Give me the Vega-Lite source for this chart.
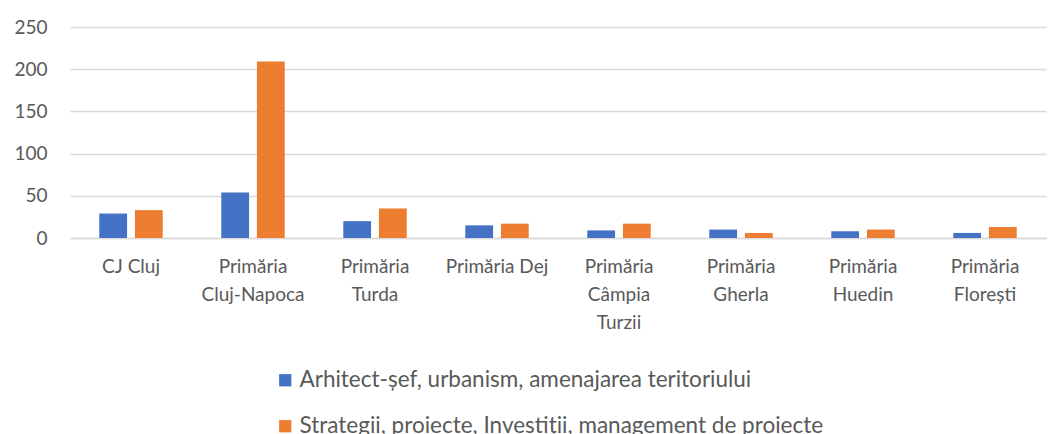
{
  "$schema": "https://vega.github.io/schema/vega-lite/v6.json",
  "autosize": "none",
  "width": 976,
  "height": 211,
  "padding": {"left": 70, "top": 27, "right": 3, "bottom": 196},
  "background": "white",
  "config": {
    "font": "Lato",
    "view": {"stroke": null},
    "axis": {"labelFont": "Lato", "labelColor": "#595959", "labelFontSize": 19}
  },
  "data": {
    "values": [
      {"inst": "CJ Cluj", "cat": "Arhitect-șef, urbanism, amenajarea teritoriului", "val": 29},
      {"inst": "CJ Cluj", "cat": "Strategii, proiecte, Investiții, management de proiecte", "val": 33},
      {"inst": "Primăria Cluj-Napoca", "cat": "Arhitect-șef, urbanism, amenajarea teritoriului", "val": 54},
      {"inst": "Primăria Cluj-Napoca", "cat": "Strategii, proiecte, Investiții, management de proiecte", "val": 209},
      {"inst": "Primăria Turda", "cat": "Arhitect-șef, urbanism, amenajarea teritoriului", "val": 20},
      {"inst": "Primăria Turda", "cat": "Strategii, proiecte, Investiții, management de proiecte", "val": 35},
      {"inst": "Primăria Dej", "cat": "Arhitect-șef, urbanism, amenajarea teritoriului", "val": 15},
      {"inst": "Primăria Dej", "cat": "Strategii, proiecte, Investiții, management de proiecte", "val": 17},
      {"inst": "Primăria Câmpia Turzii", "cat": "Arhitect-șef, urbanism, amenajarea teritoriului", "val": 9},
      {"inst": "Primăria Câmpia Turzii", "cat": "Strategii, proiecte, Investiții, management de proiecte", "val": 17},
      {"inst": "Primăria Gherla", "cat": "Arhitect-șef, urbanism, amenajarea teritoriului", "val": 10},
      {"inst": "Primăria Gherla", "cat": "Strategii, proiecte, Investiții, management de proiecte", "val": 6},
      {"inst": "Primăria Huedin", "cat": "Arhitect-șef, urbanism, amenajarea teritoriului", "val": 8},
      {"inst": "Primăria Huedin", "cat": "Strategii, proiecte, Investiții, management de proiecte", "val": 10},
      {"inst": "Primăria Florești", "cat": "Arhitect-șef, urbanism, amenajarea teritoriului", "val": 6},
      {"inst": "Primăria Florești", "cat": "Strategii, proiecte, Investiții, management de proiecte", "val": 13}
    ]
  },
  "mark": {"type": "bar"},
  "encoding": {
    "x": {
      "field": "inst",
      "type": "nominal",
      "sort": null,
      "scale": {"paddingInner": 0.48, "paddingOuter": 0.24},
      "axis": {
        "title": null,
        "labelAngle": 0,
        "ticks": false,
        "domain": true,
        "domainColor": "#d9d9d9",
        "domainWidth": 1.5,
        "labelPadding": 28,
        "labelLineHeight": 28,
        "labelBaseline": "middle",
        "labelLimit": 200,
        "labelExpr": "(datum.value == 'CJ Cluj' || datum.value == 'Primăria Dej') ? datum.value : split(datum.value, ' ')"
      }
    },
    "xOffset": {"field": "cat", "type": "nominal", "scale": {"paddingInner": 0.22}},
    "y": {
      "field": "val",
      "type": "quantitative",
      "scale": {"domain": [0, 250], "nice": false},
      "axis": {
        "title": null,
        "values": [0, 50, 100, 150, 200, 250],
        "domain": false,
        "ticks": false,
        "gridColor": "#d9d9d9",
        "gridWidth": 1.5,
        "labelPadding": 23
      }
    },
    "color": {
      "field": "cat",
      "type": "nominal",
      "scale": {"range": ["#4472C4", "#ED7D31"]},
      "legend": {
        "title": null,
        "orient": "none",
        "legendX": 204,
        "legendY": 342,
        "direction": "vertical",
        "symbolType": "square",
        "symbolSize": 150,
        "symbolStrokeWidth": 0,
        "labelFontSize": 22.5,
        "labelColor": "#595959",
        "labelFont": "Lato",
        "labelLimit": 700,
        "rowPadding": 23,
        "labelOffset": 3
      }
    }
  }
}
